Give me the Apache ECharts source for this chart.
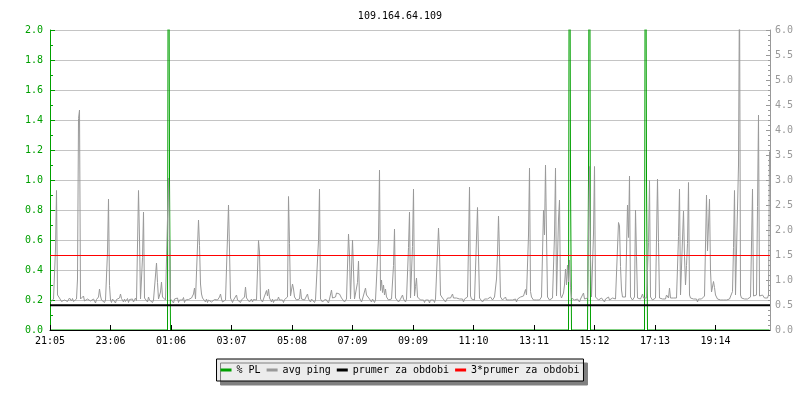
<!DOCTYPE html>
<html>
<head>
<meta charset="utf-8">
<script src="https://cdn.jsdelivr.net/npm/echarts@6/dist/echarts.min.js"></script>
<style>html,body{margin:0;padding:0;background:#fff}#c{width:800px;height:400px}</style>
</head>
<body>
<div id="c"></div>
<script>
// ---- data ----
var titleText = '109.164.64.109';
var tickLabels = ['21:05','23:06','01:06','03:07','05:08','07:09','09:09','11:10','13:11','15:12','17:13','19:14'];
var tickStepMin = 121;      // minutes between tick labels
var sampleStepMin = 2;      // minutes per sample
var spanMin = 1440;         // 24 h window

// avg ping (right axis), one sample per 2 minutes
var avgPing = [
0.56,0.58,0.6,0.62,0.6,1.62,2.79,0.7,0.68,0.64,0.6,0.57,0.59,0.54,0.6,0.58,0.62,0.57,0.6,0.64,
0.6,0.58,0.63,0.57,0.6,0.55,0.62,1.02,4.23,4.4,0.62,0.66,0.6,0.68,0.58,0.6,0.55,0.62,0.59,0.64,
0.58,0.6,0.56,0.62,0.6,0.54,0.61,0.64,0.66,0.82,0.68,0.6,0.58,0.62,0.55,0.6,0.59,1.56,2.62,0.89,
0.6,0.55,0.62,0.58,0.6,0.54,0.61,0.58,0.6,0.64,0.72,0.63,0.6,0.56,0.62,0.57,0.6,0.63,0.55,0.61,
0.57,0.6,0.62,0.56,0.6,0.64,0.59,0.62,2.79,1.82,0.62,0.6,1.45,2.36,0.64,0.6,0.62,0.56,0.66,0.6,
0.58,0.62,0.55,0.6,0.63,0.6,1.34,0.95,0.62,0.6,0.76,0.96,0.66,0.7,0.62,0.6,0.56,0.62,3.04,1.87,
0.62,0.58,0.6,0.54,0.62,0.59,0.6,0.64,0.55,0.6,0.62,0.58,0.6,0.65,0.55,0.6,0.62,0.56,0.61,0.6,
0.62,0.64,0.68,0.72,0.84,0.62,0.6,0.63,2.2,1.69,0.92,0.72,0.64,0.66,0.6,0.56,0.62,0.55,0.6,0.59,
0.62,0.56,0.6,0.54,0.61,0.6,0.63,0.6,0.64,0.66,0.72,0.62,0.56,0.6,0.55,0.6,0.62,0.64,2.5,1.6,
0.64,0.6,0.55,0.6,0.58,0.62,0.7,0.6,0.56,0.62,0.55,0.6,0.59,0.62,0.66,0.86,0.64,0.6,0.62,0.56,
0.6,0.62,0.56,0.61,0.6,0.63,0.6,0.64,1.79,1.56,0.62,0.6,0.56,0.62,0.6,0.66,0.79,0.68,0.82,0.64,
0.6,0.56,0.62,0.55,0.6,0.58,0.63,0.6,0.66,0.6,0.56,0.62,0.6,0.55,0.61,0.6,0.64,0.66,2.67,1.73,
0.68,0.64,0.92,0.82,0.66,0.62,0.6,0.64,0.56,0.62,0.82,0.62,0.6,0.64,0.6,0.56,0.62,0.72,0.62,0.6,
0.56,0.62,0.6,0.64,0.55,0.6,0.62,0.6,1.79,2.82,0.62,0.6,0.56,0.6,0.55,0.62,0.58,0.6,0.54,0.62,
0.64,0.8,0.64,0.6,0.62,0.66,0.74,0.78,0.76,0.72,0.7,0.64,0.6,0.62,0.56,0.6,0.62,0.64,1.92,1.49,
0.62,0.64,1.8,1.19,0.62,0.6,0.66,0.95,1.38,0.64,0.6,0.56,0.62,0.6,0.64,0.84,0.7,0.72,0.68,0.62,
0.6,0.56,0.62,0.6,0.55,0.6,0.62,0.64,1.84,3.2,0.79,1.0,0.75,0.9,0.7,0.82,0.66,0.64,0.6,0.62,
0.6,0.62,0.64,1.29,2.02,0.64,0.6,0.62,0.56,0.6,0.62,0.64,0.7,0.62,0.6,0.56,0.62,0.64,1.65,2.36,
0.64,0.66,1.67,2.82,0.68,0.87,1.04,0.66,0.62,0.7,0.6,0.56,0.62,0.6,0.55,0.6,0.62,0.56,0.6,0.54,
0.6,0.56,0.62,0.6,0.55,0.62,0.6,0.64,2.04,1.58,0.7,0.7,0.64,0.6,0.62,0.56,0.6,0.64,0.62,0.6,
0.64,0.62,0.72,0.64,0.62,0.6,0.64,0.62,0.66,0.62,0.64,0.6,0.62,0.56,0.62,0.6,0.63,0.66,1.7,2.86,
0.68,0.62,0.6,0.64,0.6,0.62,0.64,2.45,1.49,0.64,0.6,0.62,0.56,0.6,0.62,0.64,0.6,0.62,0.64,0.6,
0.66,0.62,0.6,0.64,0.66,0.7,1.02,1.52,2.28,1.52,0.66,0.62,0.6,0.64,0.62,0.66,0.6,0.56,0.62,0.6,
0.56,0.62,0.6,0.64,0.6,0.62,0.56,0.62,0.64,0.62,0.66,0.7,0.64,0.68,0.72,0.81,0.7,0.66,1.9,3.24,
0.77,0.66,0.62,0.6,0.64,0.62,0.6,0.56,0.62,0.6,0.64,0.66,0.7,2.4,1.9,3.3,1.9,0.66,0.62,0.6,
0.62,0.6,0.64,0.66,1.9,3.24,0.68,0.66,2.22,2.6,0.7,0.64,0.68,0.74,0.9,1.22,0.9,1.3,0.96,1.4,
0.85,0.64,0.6,0.62,0.6,0.56,0.6,0.62,0.6,0.56,0.62,0.6,0.64,0.74,0.62,0.6,0.62,0.64,1.9,3.27,
1.47,0.66,0.68,1.92,3.27,0.66,0.62,0.64,0.6,0.62,0.6,0.64,0.62,0.6,0.56,0.62,0.6,0.62,0.66,0.6,
0.62,0.6,0.64,0.62,0.6,0.62,0.64,0.66,2.15,2.08,1.27,0.8,0.66,0.62,0.64,0.66,0.68,2.5,1.85,3.08,
0.66,0.62,0.6,0.64,0.66,2.4,1.47,0.64,0.62,0.6,0.62,0.64,0.72,0.64,0.62,0.66,0.64,0.68,1.75,2.99,
0.66,0.62,0.6,0.64,0.62,0.64,0.66,3.02,1.75,0.64,0.62,0.6,0.62,0.64,0.6,0.62,0.7,0.66,0.64,0.84,
0.64,0.62,0.6,0.64,0.62,0.66,0.64,0.68,1.87,2.82,0.7,0.66,0.7,2.38,1.47,0.9,1.29,1.73,2.95,0.7,
0.64,0.62,0.6,0.62,0.64,0.6,0.62,0.56,0.62,0.6,0.64,0.62,0.66,0.64,0.68,0.72,2.7,1.58,1.58,2.62,
1.18,0.76,0.8,0.97,0.85,0.7,0.66,0.62,0.6,0.62,0.6,0.56,0.62,0.6,0.64,0.62,0.6,0.62,0.56,0.62,
0.64,0.66,0.77,1.65,2.79,0.7,0.66,0.68,3.3,7.0,0.7,0.64,0.62,0.6,0.62,0.6,0.64,0.62,0.6,0.64,
0.66,1.7,2.82,0.68,0.64,0.66,0.7,2.47,4.3,0.68,0.64,0.66,0.7,0.68,0.64,0.62,0.66,0.64,0.7,3.57
];

// packet loss (left axis): sample index and value
var plIndex = [0, 117, 118, 119, 120, 518, 519, 520, 521, 537, 538, 539, 540, 594, 595, 596, 597, 719];
var plValue = [0, 0, 4.0, 1.0, 0, 0, 4.0, 1.0, 0, 0, 1.0, 4.0, 0, 0, 4.0, 1.0, 0, 0];

var prumer = 0.497;        // average for period (right axis)
var prumer3 = 1.49;        // 3 * average

// ---- build ----
function tOf(i) { return i * sampleStepMin + sampleStepMin / 2; }
var pingData = avgPing.map(function (v, i) { return [tOf(i), v]; });
var plData = plIndex.map(function (idx, k) { return [tOf(idx), plValue[k]]; });

var mono = 'DejaVu Sans Mono';
var GREEN = '#00a000', GRAY = '#999999', RED = '#ff0000', BLACK = '#000000';

var chart = echarts.init(document.getElementById('c'), null, {renderer: 'canvas'});
chart.setOption({
  animation: false,
  backgroundColor: '#ffffff',
  color: [GREEN, GRAY, BLACK, RED],
  title: {
    text: titleText, left: 'center', top: 6,
    textStyle: {fontFamily: mono, fontSize: 10, fontWeight: 'normal', color: '#000'}
  },
  legend: {
    top: 359, left: 'center',
    icon: 'rect', itemWidth: 11, itemHeight: 3, itemGap: 6,
    padding: [6, 4],
    backgroundColor: '#ececec', borderColor: '#000', borderWidth: 1,
    shadowColor: '#808080', shadowBlur: 0, shadowOffsetX: 4, shadowOffsetY: 4,
    textStyle: {fontFamily: mono, fontSize: 10, color: '#000'},
    data: ['% PL', 'avg ping', 'prumer za obdobi', '3*prumer za obdobi']
  },
  grid: {left: 50, right: 30, top: 30, bottom: 70, containLabel: false},
  xAxis: {
    type: 'value', min: 0, max: spanMin, interval: tickStepMin, z: 5,
    axisLine: {lineStyle: {color: '#000', width: 1}},
    axisTick: {inside: true, length: 5, lineStyle: {color: '#000'}},
    splitLine: {show: false},
    axisLabel: {
      fontFamily: mono, fontSize: 10, color: '#000', margin: 6, showMaxLabel: false,
      formatter: function (v) {
        var k = Math.round(v / tickStepMin);
        return (Math.abs(v - k * tickStepMin) < 1e-6 && tickLabels[k]) ? tickLabels[k] : '';
      }
    }
  },
  yAxis: [{
    type: 'value', min: 0, max: 2, interval: 0.2, position: 'left',
    axisLine: {show: true, lineStyle: {color: GREEN}},
    axisTick: {show: true, inside: true, length: 5, lineStyle: {color: GREEN}},
    minorTick: {show: true, splitNumber: 2, length: 3, lineStyle: {color: GREEN}},
    splitLine: {show: true, lineStyle: {color: '#c4c4c4', width: 1}},
    axisLabel: {fontFamily: mono, fontSize: 10, color: GREEN, margin: 7,
      formatter: function (v) { return v.toFixed(1); }}
  }, {
    type: 'value', min: 0, max: 6, interval: 0.5, position: 'right',
    axisLine: {show: true, lineStyle: {color: GRAY}},
    axisTick: {show: true, inside: true, length: 4, lineStyle: {color: GRAY}},
    minorTick: {show: true, splitNumber: 5, length: 2, lineStyle: {color: GRAY}},
    splitLine: {show: false},
    axisLabel: {fontFamily: mono, fontSize: 10, color: GRAY, margin: 5,
      formatter: function (v) { return v.toFixed(1); }}
  }],
  series: [{
    name: '% PL', type: 'line', yAxisIndex: 0, data: plData,
    showSymbol: false, symbol: 'none',
    itemStyle: {color: GREEN}, lineStyle: {color: GREEN, width: 1}, z: 2
  }, {
    name: 'avg ping', type: 'line', yAxisIndex: 1, data: pingData,
    showSymbol: false, symbol: 'none', sampling: null,
    itemStyle: {color: GRAY}, lineStyle: {color: GRAY, width: 1}, z: 3
  }, {
    name: 'prumer za obdobi', type: 'line', yAxisIndex: 1,
    data: [[0, prumer], [spanMin, prumer]],
    showSymbol: false, symbol: 'none',
    itemStyle: {color: BLACK}, lineStyle: {color: BLACK, width: 2}, z: 4
  }, {
    name: '3*prumer za obdobi', type: 'line', yAxisIndex: 1,
    data: [[0, prumer3], [spanMin, prumer3]],
    showSymbol: false, symbol: 'none',
    itemStyle: {color: RED}, lineStyle: {color: RED, width: 1, opacity: 1}, z: 5
  }]
});
</script>
</body>
</html>
